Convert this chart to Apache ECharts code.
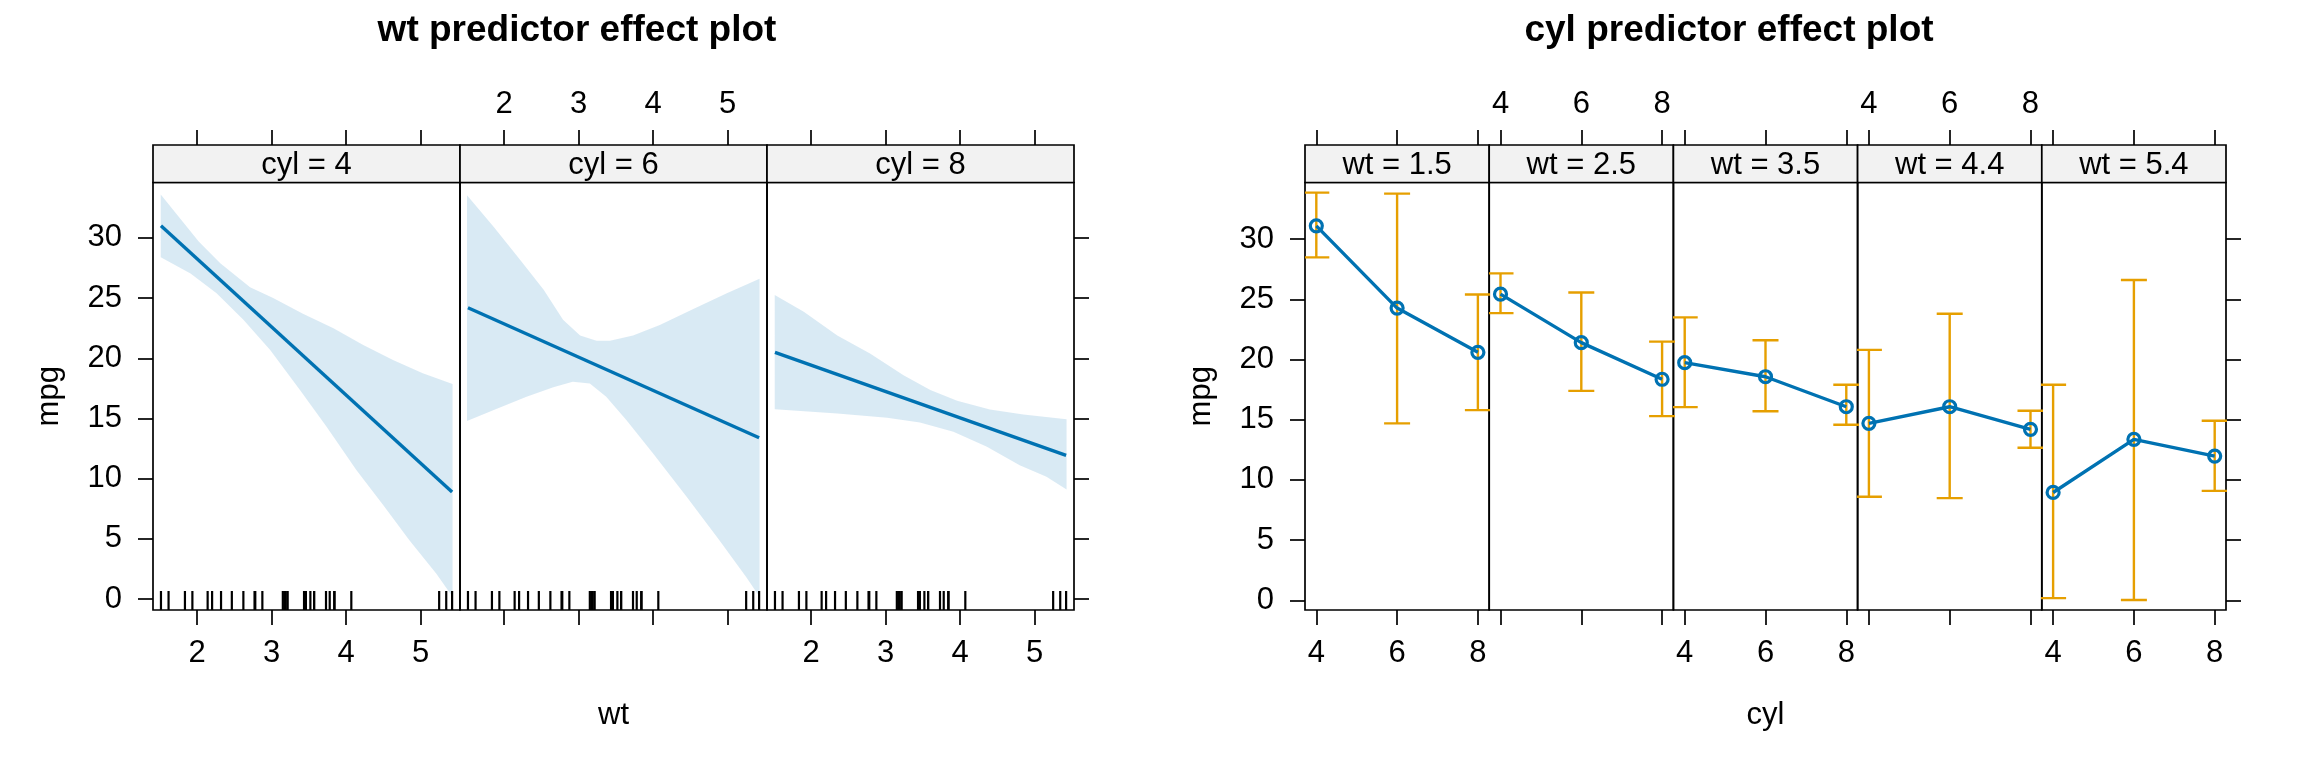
<!DOCTYPE html>
<html>
<head>
<meta charset="utf-8">
<script src="https://cdn.jsdelivr.net/npm/echarts@6/dist/echarts.min.js"></script>
<style>
  html, body { margin: 0; padding: 0; background: #fff; }
  #chart { width: 2304px; height: 768px; }
</style>
</head>
<body>
<div id="chart"></div>
<script>
// levels and tick labels
const cylLevels = [4, 6, 8]
const wtLevels = [1.5, 2.5, 3.5, 4.4, 5.4]
const wtTicks = [2, 3, 4, 5]
const cylTicks = [4, 6, 8]
const mpgTicks = [0, 5, 10, 15, 20, 25, 30]

// observed wt values, drawn as the rug
const rugWt = [2.620, 2.875, 2.320, 3.215, 3.440, 3.460, 3.570, 3.190, 3.150, 3.440, 3.440,
  4.070, 3.730, 3.780, 5.250, 5.424, 5.345, 2.200, 1.615, 1.835, 2.465, 3.520, 3.435,
  3.840, 3.845, 1.935, 2.140, 1.513, 3.170, 2.770, 3.570, 2.780]

// wt effect: fitted line end points, one pair per cyl panel
const fitWt = [1.513, 5.424]
const fitMpg = [
  [31.0, 8.9],
  [24.2, 13.4],
  [20.5, 11.94]
]

// wt effect: confidence band edges per cyl panel
const upperWt = [
  [1.51, 2.02, 2.31, 2.71, 3.02, 3.42, 3.83, 4.23, 4.63, 5.03, 5.43],
  [1.50, 1.86, 2.21, 2.53, 2.79, 3.02, 3.24, 3.42, 3.73, 4.09, 4.54, 4.99, 5.43],
  [1.51, 1.90, 2.35, 2.79, 3.24, 3.60, 3.96, 4.40, 4.85, 5.43]
]
const upperMpg = [
  [33.6, 29.7, 27.9, 25.9, 25.0, 23.7, 22.5, 21.1, 19.85, 18.75, 17.86],
  [33.55, 30.9, 28.2, 25.7, 23.2, 21.9, 21.45, 21.45, 21.9, 22.76, 24.1, 25.4, 26.6],
  [25.25, 23.86, 21.9, 20.4, 18.6, 17.36, 16.47, 15.75, 15.34, 14.95]
]
const lowerWt = [
  [1.51, 1.91, 2.26, 2.62, 2.98, 3.38, 3.74, 4.14, 4.50, 4.85, 5.21, 5.43],
  [1.50, 1.86, 2.30, 2.66, 2.92, 3.15, 3.37, 3.64, 4.00, 4.45, 4.89, 5.25, 5.43],
  [1.51, 2.35, 3.02, 3.46, 3.91, 4.36, 4.80, 5.16, 5.43]
]
const lowerMpg = [
  [28.4, 27.05, 25.4, 23.2, 20.7, 17.36, 14.3, 10.7, 7.8, 4.9, 2.13, 0.2],
  [14.8, 15.7, 16.8, 17.6, 18.05, 17.9, 16.8, 14.87, 12.1, 8.5, 4.9, 1.85, 0.2],
  [15.78, 15.42, 15.06, 14.67, 13.9, 12.65, 11.13, 10.16, 9.11]
]

// cyl effect: fit and interval per wt panel (columns follow cylLevels)
const effectFit = [
  [31.1, 24.27, 20.6],
  [25.43, 21.4, 18.36],
  [19.74, 18.57, 16.08],
  [14.7, 16.08, 14.2],
  [8.96, 13.37, 11.98]
]
const effectLower = [
  [28.48, 14.7, 15.8],
  [23.85, 17.4, 15.3],
  [16.05, 15.7, 14.58],
  [8.6, 8.49, 12.67],
  [0.19, 0.03, 9.09]
]
const effectUpper = [
  [33.86, 33.78, 25.4],
  [27.15, 25.57, 21.49],
  [23.5, 21.6, 17.9],
  [20.8, 23.8, 15.75],
  [17.9, 26.6, 14.92]
]

const FONT = '"Liberation Sans", Arial, sans-serif'
const BLUE = '#0072B2'
const ORANGE = '#E69F00'
const BAND = 'rgba(0,114,178,0.15)'
const TOP = 182.5
const HEIGHT = 427.5
const STRIP = 37.5
const TICK = 15
const LABEL = 31

const grids = []
const xAxes = []
const yAxes = []
const series = []
const graphics = []

const tickStyle = { color: '#000', width: 1.7 }
const labelStyle = { fontSize: LABEL, color: '#000', fontFamily: FONT }

function addPanel(left, width, o) {
  const gi = grids.length
  grids.push({
    left: left, top: TOP, width: width, height: HEIGHT,
    show: true, borderColor: '#000', borderWidth: 1.7,
    backgroundColor: 'transparent', outerBoundsMode: 'none'
  })
  const xBase = {
    gridIndex: gi, type: 'value', min: o.xMin, max: o.xMax,
    axisLine: { show: false, onZero: false }, splitLine: { show: false },
    axisTick: { show: true, inside: false, length: TICK, customValues: o.xTicks, lineStyle: tickStyle }
  }
  xAxes.push(Object.assign({}, xBase, {
    position: 'bottom',
    axisLabel: Object.assign({ show: o.labelBottom, customValues: o.xTicks, margin: 28 }, labelStyle),
    name: o.xName || '', nameLocation: 'middle', nameGap: 90,
    nameTextStyle: labelStyle
  }))
  xAxes.push(Object.assign({}, xBase, {
    position: 'top', offset: STRIP,
    axisLabel: Object.assign({ show: o.labelTop, customValues: o.xTicks, margin: 25 }, labelStyle)
  }))
  const yBase = {
    gridIndex: gi, type: 'value', min: o.yMin, max: o.yMax,
    axisLine: { show: false, onZero: false }, splitLine: { show: false }
  }
  yAxes.push(Object.assign({}, yBase, {
    position: 'left',
    axisTick: { show: !!o.first, inside: false, length: TICK, customValues: mpgTicks, lineStyle: tickStyle },
    axisLabel: Object.assign({ show: !!o.first, customValues: mpgTicks, margin: 31 }, labelStyle),
    name: o.first ? 'mpg' : '', nameLocation: 'middle', nameGap: 88,
    nameTextStyle: labelStyle
  }))
  yAxes.push(Object.assign({}, yBase, {
    position: 'right',
    axisTick: { show: !!o.last, inside: false, length: TICK, customValues: mpgTicks, lineStyle: tickStyle },
    axisLabel: { show: false }
  }))
  graphics.push({
    type: 'rect', z: 10,
    shape: { x: left, y: TOP - STRIP, width: width, height: STRIP },
    style: { fill: '#F2F2F2', stroke: '#000', lineWidth: 1.7 }
  })
  graphics.push({
    type: 'text', z: 11, x: left + width / 2, y: TOP - STRIP / 2 + 2,
    style: { text: o.strip, fill: '#000', font: '31px ' + FONT, textAlign: 'center', textVerticalAlign: 'middle' }
  })
  return gi
}

// ---- wt predictor effect plot ----
const L_X0 = 153, L_W = 307
cylLevels.forEach(function (cyl, p) {
  const gi = addPanel(L_X0 + p * L_W, L_W, {
    xMin: 1.406, xMax: 5.53, xTicks: wtTicks, yMin: -0.9, yMax: 34.6,
    labelBottom: p !== 1, labelTop: p === 1, first: p === 0, last: p === 2,
    xName: p === 1 ? 'wt' : '', strip: 'cyl = ' + cyl
  })
  const ax = { xAxisIndex: 2 * gi, yAxisIndex: 2 * gi }
  series.push(Object.assign({
    type: 'custom', silent: true, z: 1,
    data: [[upperWt[p][0], upperMpg[p][0]]],
    renderItem: function (params, api) {
      const up = upperWt[p].map(function (w, k) { return api.coord([w, upperMpg[p][k]]) })
      const lo = lowerWt[p].map(function (w, k) { return api.coord([w, lowerMpg[p][k]]) }).reverse()
      return { type: 'polygon', shape: { points: up.concat(lo) }, style: { fill: BAND } }
    }
  }, ax))
  series.push(Object.assign({
    type: 'line', silent: true, z: 3, showSymbol: false,
    data: fitWt.map(function (w, k) { return [w, fitMpg[p][k]] }),
    lineStyle: { color: BLUE, width: 3.4 }
  }, ax))
  series.push(Object.assign({
    type: 'custom', silent: true, z: 2,
    data: rugWt.map(function (w) { return [w, -0.9] }),
    renderItem: function (params, api) {
      const pt = api.coord([api.value(0), api.value(1)])
      return { type: 'line', shape: { x1: pt[0], y1: pt[1], x2: pt[0], y2: pt[1] - 19 }, style: { stroke: '#000', lineWidth: 2.2 } }
    }
  }, ax))
})

// ---- cyl predictor effect plot ----
const R_X0 = 1305, R_W = 184.2
wtLevels.forEach(function (wt, q) {
  const gi = addPanel(R_X0 + q * R_W, R_W, {
    xMin: 3.72, xMax: 8.28, xTicks: cylTicks, yMin: -0.8, yMax: 34.7,
    labelBottom: q % 2 === 0, labelTop: q % 2 === 1, first: q === 0, last: q === 4,
    xName: q === 2 ? 'cyl' : '', strip: 'wt = ' + wt
  })
  const ax = { xAxisIndex: 2 * gi, yAxisIndex: 2 * gi }
  series.push(Object.assign({
    type: 'custom', silent: true, z: 2, clip: true,
    data: cylLevels.map(function (c, k) { return [c, effectLower[q][k], effectUpper[q][k]] }),
    renderItem: function (params, api) {
      const a = api.coord([api.value(0), api.value(2)])
      const b = api.coord([api.value(0), api.value(1)])
      const st = { stroke: ORANGE, lineWidth: 2.4 }
      return {
        type: 'group', children: [
          { type: 'line', shape: { x1: a[0], y1: a[1], x2: b[0], y2: b[1] }, style: st },
          { type: 'line', shape: { x1: a[0] - 13, y1: a[1], x2: a[0] + 13, y2: a[1] }, style: st },
          { type: 'line', shape: { x1: b[0] - 13, y1: b[1], x2: b[0] + 13, y2: b[1] }, style: st }
        ]
      }
    }
  }, ax))
  series.push(Object.assign({
    type: 'line', silent: true, z: 3,
    data: cylLevels.map(function (c, k) { return [c, effectFit[q][k]] }),
    symbol: 'circle', symbolSize: 12,
    itemStyle: { color: 'rgba(0,0,0,0)', borderColor: BLUE, borderWidth: 3.2 },
    lineStyle: { color: BLUE, width: 3.4 }
  }, ax))
})

graphics.push({
  type: 'text', x: 577, y: 31,
  style: { text: 'wt predictor effect plot', fill: '#000', font: 'bold 37px ' + FONT, textAlign: 'center', textVerticalAlign: 'middle' }
})
graphics.push({
  type: 'text', x: 1729, y: 31,
  style: { text: 'cyl predictor effect plot', fill: '#000', font: 'bold 37px ' + FONT, textAlign: 'center', textVerticalAlign: 'middle' }
})

const chart = echarts.init(document.getElementById('chart'))
chart.setOption({
  animation: false,
  backgroundColor: '#fff',
  grid: grids,
  xAxis: xAxes,
  yAxis: yAxes,
  series: series,
  graphic: graphics
})
</script>
</body>
</html>
